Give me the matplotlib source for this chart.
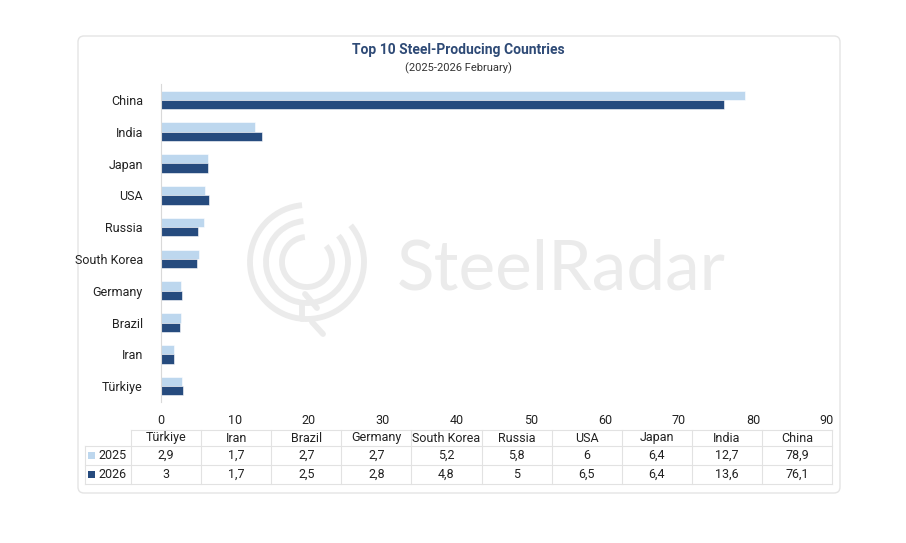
import matplotlib.pyplot as plt
from matplotlib.patches import FancyBboxPatch, Arc, Rectangle

plt.rcParams['font.family'] = ['Roboto', 'DejaVu Sans']

countries = ['Türkiye', 'Iran', 'Brazil', 'Germany', 'South Korea',
             'Russia', 'USA', 'Japan', 'India', 'China']
values_2025 = [2.9, 1.7, 2.7, 2.7, 5.2, 5.8, 6, 6.4, 12.7, 78.9]
values_2026 = [3, 1.7, 2.5, 2.8, 4.8, 5, 6.5, 6.4, 13.6, 76.1]
x_ticks = [0, 10, 20, 30, 40, 50, 60, 70, 80, 90]

c_2025 = '#BDD7EE'
c_2026 = '#264B7E'
W, H = 906, 543

fig = plt.figure(figsize=(W / 100, H / 100), dpi=100)

# background layer in pixel coordinates: card, watermark, table
bg = fig.add_axes([0, 0, 1, 1], zorder=0)
bg.set_xlim(0, W)
bg.set_ylim(H, 0)
bg.axis('off')

card = FancyBboxPatch((78, 36), 762, 457, boxstyle='round,pad=0,rounding_size=6',
                      facecolor='white', edgecolor='#E4E4E4', linewidth=1)
bg.add_patch(card)

# watermark logo
wm = '#EBEBEB'
cx, cy = 307, 262
for r in [57, 41, 25]:
    bg.add_patch(Arc((cx, cy), 2 * r, 2 * r, theta1=-40, theta2=265,
                     color=wm, linewidth=4.2))
bg.plot([cx - 5, cx - 5], [cy + 41, cy + 57], color=wm, lw=4.2, solid_capstyle='round')
bg.plot([cx + 5, cx + 16], [cy + 60, cy + 72], color=wm, lw=4.2, solid_capstyle='round')
bg.plot([cx - 2, cx + 10], [cy + 32, cy + 46], color=wm, lw=4.2, solid_capstyle='round')
bg.text(397, 289, 'SteelRadar', fontsize=50, color=wm, family='Lato',
        fontweight='normal', va='baseline', ha='left')

# title
fig.text(458 / W, 1 - 50 / H, 'Top 10 Steel-Producing Countries', ha='center', va='center',
         fontsize=10, fontweight='bold', color='#2E4A76')
fig.text(458 / W, 1 - 68 / H, '(2025-2026 February)', ha='center', va='center',
         fontsize=8, color='#333333')

# bar chart
ax = fig.add_axes([161 / W, 1 - 402 / H, (827 - 161) / W, (402 - 84) / H], zorder=2)
ax.patch.set_alpha(0)
y = list(range(len(countries)))
h = 0.29
ax.barh([i + h / 2 for i in y], values_2025, height=h, color=c_2025,
        edgecolor='white', linewidth=0.4)
ax.barh([i - h / 2 for i in y], values_2026, height=h, color=c_2026,
        edgecolor='white', linewidth=0.4)
ax.set_xlim(0, 90)
ax.set_ylim(-0.5, 9.5)
ax.set_xticks(x_ticks)
ax.set_yticks(y)
ax.set_yticklabels(countries)
ax.tick_params(axis='both', length=0, labelsize=9, colors='#222222')
ax.tick_params(axis='y', pad=13)
ax.tick_params(axis='x', pad=9)
for s in ['top', 'right', 'bottom']:
    ax.spines[s].set_visible(False)
ax.spines['left'].set_color('#D9D9D9')
ax.spines['left'].set_linewidth(0.8)

# data table
grid = '#E2E2E2'
tl, tr = 131, 832
col_w = (tr - tl) / len(countries)
rows = [430, 446, 465, 484]
bg.plot([tl, tr], [rows[0], rows[0]], color=grid, lw=0.8)
for yy in rows[1:]:
    bg.plot([85, tr], [yy, yy], color=grid, lw=0.8)
for j in range(len(countries) + 1):
    xx = tl + j * col_w
    bg.plot([xx, xx], [rows[0], rows[3]], color=grid, lw=0.8)
bg.plot([85, 85], [rows[1], rows[3]], color=grid, lw=0.8)

def fmt(v):
    s = ('%g' % v).replace('.', ',')
    return s

for j, name in enumerate(countries):
    xc = tl + (j + 0.5) * col_w
    bg.text(xc, (rows[0] + rows[1]) / 2, name, ha='center', va='center',
            fontsize=9, color='#222222')
    bg.text(xc, (rows[1] + rows[2]) / 2, fmt(values_2025[j]), ha='center', va='center',
            fontsize=9, color='#222222')
    bg.text(xc, (rows[2] + rows[3]) / 2, fmt(values_2026[j]), ha='center', va='center',
            fontsize=9, color='#222222')

for k, (lab, col) in enumerate([('2025', c_2025), ('2026', c_2026)]):
    ym = (rows[k + 1] + rows[k + 2]) / 2
    bg.add_patch(Rectangle((88, ym - 4), 7, 7, facecolor=col, edgecolor='none'))
    bg.text(98, ym, lab, ha='left', va='center', fontsize=9, color='#222222')

fig.savefig('out.png', dpi=100)
